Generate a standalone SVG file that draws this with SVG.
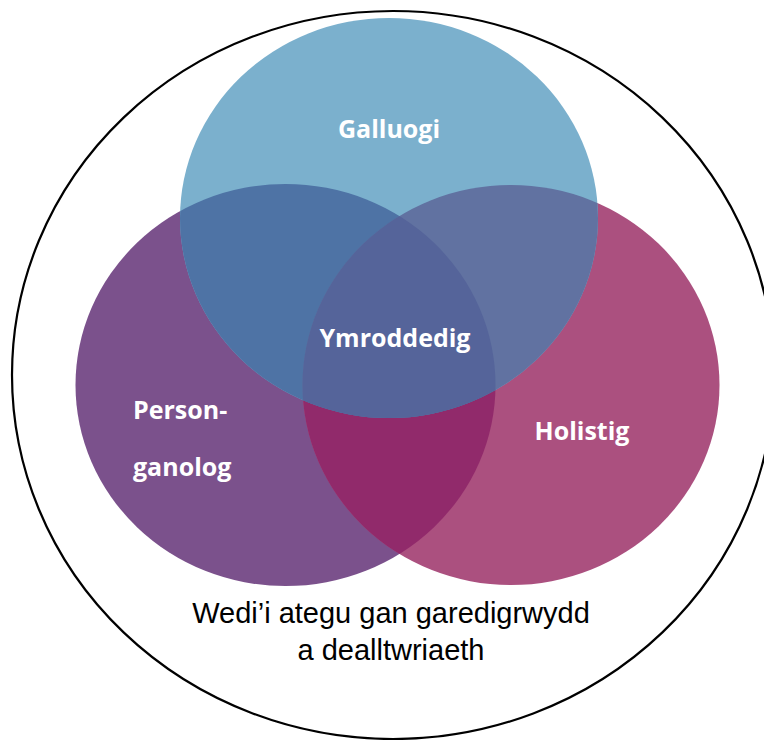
<svg xmlns="http://www.w3.org/2000/svg" width="764" height="740" viewBox="0 0 764 740">
  <style>
    .lbl { font-family: "Open Sans", "Noto Sans", "DejaVu Sans", sans-serif; font-weight: bold; font-size: 25px; fill: #ffffff; }
    .cap { font-family: "Liberation Sans", Arial, sans-serif; font-size: 29px; fill: #000000; text-anchor: middle; }
  </style>
  <defs>
    <clipPath id="cBlue"><ellipse cx="389" cy="218" rx="209" ry="200"/></clipPath>
    <clipPath id="cPurple"><ellipse cx="285.5" cy="385" rx="210" ry="201"/></clipPath>
    <clipPath id="cMagenta"><ellipse cx="511" cy="385" rx="208.5" ry="200"/></clipPath>
  </defs>
  <rect width="764" height="740" fill="#ffffff"/>
  <g id="outer">
    <ellipse cx="393" cy="375" rx="381" ry="364" fill="none" stroke="#000000" stroke-width="2.2"/>
  </g>
  <g id="persongano">
    <ellipse cx="285.5" cy="385" rx="210" ry="201" fill="#7B518C"/>
  </g>
  <g id="holistig">
    <ellipse cx="511" cy="385" rx="208.5" ry="200" fill="#AB507F"/>
  </g>
  <g id="galluogi">
    <ellipse cx="389" cy="218" rx="209" ry="200" fill="#7BB0CD"/>
  </g>
  <g id="overlaps">
    <g clip-path="url(#cPurple)">
      <ellipse cx="511" cy="385" rx="208.5" ry="200" fill="#912A6B"/>
      <ellipse cx="389" cy="218" rx="209" ry="200" fill="#4E73A5"/>
    </g>
    <g clip-path="url(#cMagenta)">
      <ellipse cx="389" cy="218" rx="209" ry="200" fill="#6172A1"/>
    </g>
    <g clip-path="url(#cPurple)">
      <g clip-path="url(#cMagenta)">
        <ellipse cx="389" cy="218" rx="209" ry="200" fill="#55649A"/>
      </g>
    </g>
  </g>
  <g id="labels">
    <text class="lbl" x="389" y="138" text-anchor="middle">Galluogi</text>
    <text class="lbl" x="395" y="347" text-anchor="middle">Ymroddedig</text>
    <text class="lbl" x="133" y="419">Person-</text>
    <text class="lbl" x="133" y="476">ganolog</text>
    <text class="lbl" x="582" y="440" text-anchor="middle">Holistig</text>
  </g>
  <g id="caption">
    <text class="cap" x="391" y="623">Wedi’i ategu gan garedigrwydd</text>
    <text class="cap" x="391" y="660">a dealltwriaeth</text>
  </g>
</svg>
